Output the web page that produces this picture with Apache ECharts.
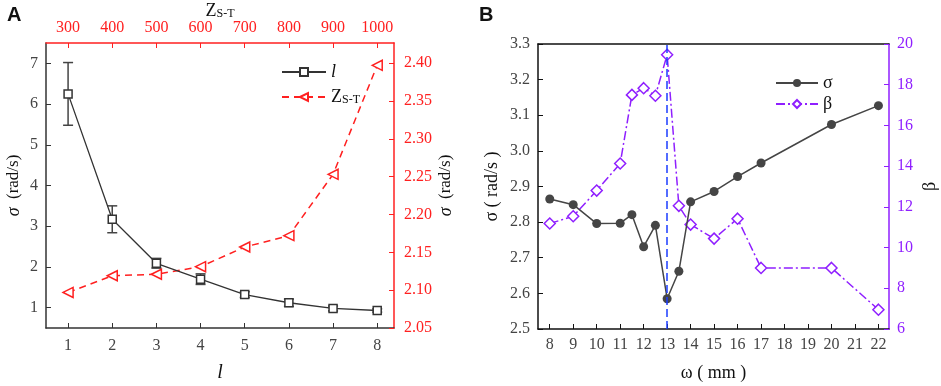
<!DOCTYPE html>
<html>
<head>
<meta charset="utf-8">
<script src="https://cdn.jsdelivr.net/npm/echarts@6/dist/echarts.min.js"></script>
<style>
  html, body { margin: 0; padding: 0; background: #fff; }
  #chart { width: 941px; height: 386px; }
</style>
</head>
<body>
<div id="chart"></div>
<script>
// === panel A data ===
const lValues = [1, 2, 3, 4, 5, 6, 7, 8];
const zValues = [300, 400, 500, 600, 700, 800, 900, 1000];
const sigmaL = [6.25, 3.17, 2.09, 1.70, 1.32, 1.12, 0.98, 0.93];
const sigmaLErr = [0.77, 0.33, 0.12, 0.13, 0.07, 0.09, 0.06, 0.04];
const sigmaZ = [2.097, 2.119, 2.121, 2.131, 2.157, 2.172, 2.253, 2.397];
const lTicks = [1, 2, 3, 4, 5, 6, 7, 8];
const zTicks = [300, 400, 500, 600, 700, 800, 900, 1000];
const sigmaLTicks = [1, 2, 3, 4, 5, 6, 7];
const sigmaZTicks = [2.05, 2.10, 2.15, 2.20, 2.25, 2.30, 2.35, 2.40];

// === panel B data ===
const omega = [8, 9, 10, 11, 11.5, 12, 12.5, 13, 13.5, 14, 15, 16, 17, 20, 22];
const sigmaW = [2.865, 2.849, 2.796, 2.797, 2.821, 2.731, 2.791, 2.585, 2.662, 2.857, 2.886, 2.928, 2.966, 3.074, 3.127];
const beta = [11.18, 11.54, 12.80, 14.13, 17.50, 17.83, 17.46, 19.47, 12.05, 11.13, 10.44, 11.42, 9.0, 9.0, 6.95];
const omegaTicks = [8, 9, 10, 11, 12, 13, 14, 15, 16, 17, 18, 19, 20, 21, 22];
const omegaMark = 13;

const serif = "'Liberation Serif', 'Times New Roman', serif";
const ink = '#333';
const red = '#ff2020';
const purple = '#8f1fff';

const zip = (a, b) => a.map((v, i) => [v, b[i]]);

const chart = echarts.init(document.getElementById('chart'));

const tick = { show: true, inside: true, length: 5 };
const label = (color) => ({ color: color, fontFamily: serif, fontSize: 16 });
const subRich = {
    z: { fontFamily: serif, fontSize: 18, color: '#111', verticalAlign: 'top', lineHeight: 18 },
    s: { fontFamily: serif, fontSize: 12, color: '#111', verticalAlign: 'bottom', lineHeight: 12, padding: [13, 0, 0, 0] }
};

const option = {
    animation: false,
    title: [
        { text: 'A', left: 2, top: 0, textStyle: { fontFamily: "'Liberation Sans', Arial, sans-serif", fontWeight: 'bold', fontSize: 20, color: '#111' } },
        { text: 'B', left: 474, top: 0, textStyle: { fontFamily: "'Liberation Sans', Arial, sans-serif", fontWeight: 'bold', fontSize: 20, color: '#111' } }
    ],
    grid: [
        { left: 46, top: 43, width: 348, height: 285, containLabel: false, outerBoundsMode: 'none' },
        { left: 538, top: 44, width: 351, height: 285, containLabel: false, outerBoundsMode: 'none' }
    ],
    legend: [
        {
            data: ['l', 'Z'],
            left: 276, top: 58, orient: 'vertical',
            itemWidth: 44, itemHeight: 10, itemGap: 0,
            formatter: name => name === 'Z' ? '{z|Z}{s|S-T}' : '{i|l}',
            textStyle: {
                color: '#111', fontFamily: serif, fontSize: 18,
                rich: Object.assign({ i: { fontFamily: serif, fontSize: 18, fontStyle: 'italic', color: '#111' } }, subRich)
            }
        },
        {
            data: ['σ', 'β'],
            left: 770, top: 69, orient: 'vertical',
            itemWidth: 42, itemHeight: 10, itemGap: 3,
            textStyle: { color: '#111', fontFamily: serif, fontSize: 18 }
        }
    ],
    xAxis: [
        {
            gridIndex: 0, type: 'value', min: 0.5, max: 8.38,
            name: 'l', nameLocation: 'middle', nameGap: 35, nameMoveOverlap: false,
            nameTextStyle: { fontFamily: serif, fontSize: 20, fontStyle: 'italic', color: '#111' },
            axisLine: { lineStyle: { color: ink, width: 1.5 } },
            axisTick: Object.assign({ customValues: lTicks }, tick),
            axisLabel: Object.assign({ customValues: lTicks, margin: 10 }, label('#444')),
            splitLine: { show: false }
        },
        {
            gridIndex: 0, type: 'value', position: 'top', min: 250, max: 1038,
            name: '{z|Z}{s|S-T}', nameLocation: 'middle', nameGap: 23, nameMoveOverlap: false,
            nameTextStyle: { rich: subRich },
            axisLine: { lineStyle: { color: red, width: 1.5 } },
            axisTick: Object.assign({ customValues: zTicks, lineStyle: { color: red } }, tick),
            axisLabel: Object.assign({ customValues: zTicks, margin: 7, formatter: v => String(v) }, label(red)),
            splitLine: { show: false }
        },
        {
            gridIndex: 1, type: 'value', min: 7.5, max: 22.45,
            name: 'ω ( mm )', nameLocation: 'middle', nameGap: 35, nameMoveOverlap: false,
            nameTextStyle: { fontFamily: serif, fontSize: 18, color: '#111' },
            axisLine: { lineStyle: { color: '#111', width: 1.5 } },
            axisTick: Object.assign({ customValues: omegaTicks }, tick),
            axisLabel: Object.assign({ customValues: omegaTicks, margin: 8 }, label('#444')),
            splitLine: { show: false }
        },
        {
            gridIndex: 1, type: 'value', position: 'top', min: 7.5, max: 22.45,
            axisLine: { lineStyle: { color: '#111', width: 1.5 } },
            axisTick: { show: false }, axisLabel: { show: false }, splitLine: { show: false }
        }
    ],
    yAxis: [
        {
            gridIndex: 0, type: 'value', min: 0.5, max: 7.5,
            name: '{i|σ}  (rad/s)', nameLocation: 'middle', nameGap: 23, nameRotate: 90, nameMoveOverlap: false,
            nameTextStyle: {
                fontFamily: serif, fontSize: 17, color: '#111',
                rich: { i: { fontFamily: serif, fontSize: 18, fontStyle: 'italic', color: '#111' } }
            },
            axisLine: { lineStyle: { color: ink, width: 1.5 } },
            axisTick: Object.assign({ customValues: sigmaLTicks }, tick),
            axisLabel: Object.assign({ customValues: sigmaLTicks, margin: 8 }, label('#444')),
            splitLine: { show: false }
        },
        {
            gridIndex: 0, type: 'value', position: 'right', min: 2.05, max: 2.4265,
            name: '{i|σ}  (rad/s)', nameLocation: 'middle', nameGap: 43, nameRotate: 90, nameMoveOverlap: false,
            nameTextStyle: {
                fontFamily: serif, fontSize: 17, color: '#111',
                rich: { i: { fontFamily: serif, fontSize: 18, fontStyle: 'italic', color: '#111' } }
            },
            axisLine: { lineStyle: { color: red, width: 1.5 } },
            axisTick: Object.assign({ customValues: sigmaZTicks, lineStyle: { color: red } }, tick),
            axisLabel: Object.assign({ customValues: sigmaZTicks, margin: 10, formatter: v => v.toFixed(2) }, label(red)),
            splitLine: { show: false }
        },
        {
            gridIndex: 1, type: 'value', min: 2.5, max: 3.3, interval: 0.1,
            name: 'σ ( rad/s )', nameLocation: 'middle', nameGap: 37, nameRotate: 90, nameMoveOverlap: false,
            nameTextStyle: { fontFamily: serif, fontSize: 18, color: '#111' },
            axisLine: { lineStyle: { color: '#111', width: 1.5 } },
            axisTick: tick,
            axisLabel: Object.assign({ margin: 8, formatter: v => v.toFixed(1) }, label('#444')),
            splitLine: { show: false }
        },
        {
            gridIndex: 1, type: 'value', position: 'right', min: 6, max: 20, interval: 2,
            name: 'β', nameLocation: 'middle', nameGap: 32, nameRotate: 90, nameMoveOverlap: false,
            nameTextStyle: { fontFamily: serif, fontSize: 18, color: '#111' },
            axisLine: { lineStyle: { color: purple, width: 1.5 } },
            axisTick: Object.assign({ lineStyle: { color: purple } }, tick),
            axisLabel: Object.assign({ margin: 8 }, label(purple)),
            splitLine: { show: false }
        }
    ],
    series: [
        {
            name: 'lErr', type: 'custom', xAxisIndex: 0, yAxisIndex: 0, z: 1,
            data: lValues.map((x, i) => [x, sigmaL[i] - sigmaLErr[i], sigmaL[i] + sigmaLErr[i]]),
            encode: { x: 0, y: [1, 2] },
            renderItem: (params, api) => {
                const x = api.value(0);
                const pLo = api.coord([x, api.value(1)]);
                const pHi = api.coord([x, api.value(2)]);
                const w = 5;
                const style = { stroke: '#444', lineWidth: 1.5 };
                return {
                    type: 'group',
                    children: [
                        { type: 'line', shape: { x1: pHi[0], y1: pHi[1], x2: pLo[0], y2: pLo[1] }, style: style },
                        { type: 'line', shape: { x1: pHi[0] - w, y1: pHi[1], x2: pHi[0] + w, y2: pHi[1] }, style: style },
                        { type: 'line', shape: { x1: pLo[0] - w, y1: pLo[1], x2: pLo[0] + w, y2: pLo[1] }, style: style }
                    ]
                };
            }
        },
        {
            name: 'l', type: 'line', xAxisIndex: 0, yAxisIndex: 0, z: 3,
            data: zip(lValues, sigmaL),
            symbol: 'rect', symbolSize: 8,
            lineStyle: { color: ink, width: 1.3 },
            itemStyle: { color: '#fff', borderColor: ink, borderWidth: 1.5 }
        },
        {
            name: 'Z', type: 'line', xAxisIndex: 1, yAxisIndex: 1, z: 2,
            data: zip(zValues, sigmaZ),
            symbol: 'triangle', symbolSize: 10, symbolRotate: 90,
            lineStyle: { color: red, width: 1.5, type: [7, 5] },
            itemStyle: { color: '#fff', borderColor: red, borderWidth: 1.5 }
        },
        {
            name: 'σ', type: 'line', xAxisIndex: 2, yAxisIndex: 2, z: 3,
            data: zip(omega, sigmaW),
            symbol: 'circle', symbolSize: 9,
            lineStyle: { color: '#454545', width: 1.5 },
            itemStyle: { color: '#454545' },
            markLine: {
                silent: true, symbol: 'none', label: { show: false },
                lineStyle: { color: '#1b3dff', type: [8, 4], width: 1.5 },
                data: [{ xAxis: omegaMark }]
            }
        },
        {
            name: 'β', type: 'line', xAxisIndex: 2, yAxisIndex: 3, z: 2,
            data: zip(omega, beta),
            symbol: 'diamond', symbolSize: 11,
            lineStyle: { color: purple, width: 1.5, type: [9, 3, 2, 3] },
            itemStyle: { color: '#fff', borderColor: purple, borderWidth: 1.5 }
        }
    ]
};

chart.setOption(option);
window.addEventListener('resize', () => chart.resize());
</script>
</body>
</html>
